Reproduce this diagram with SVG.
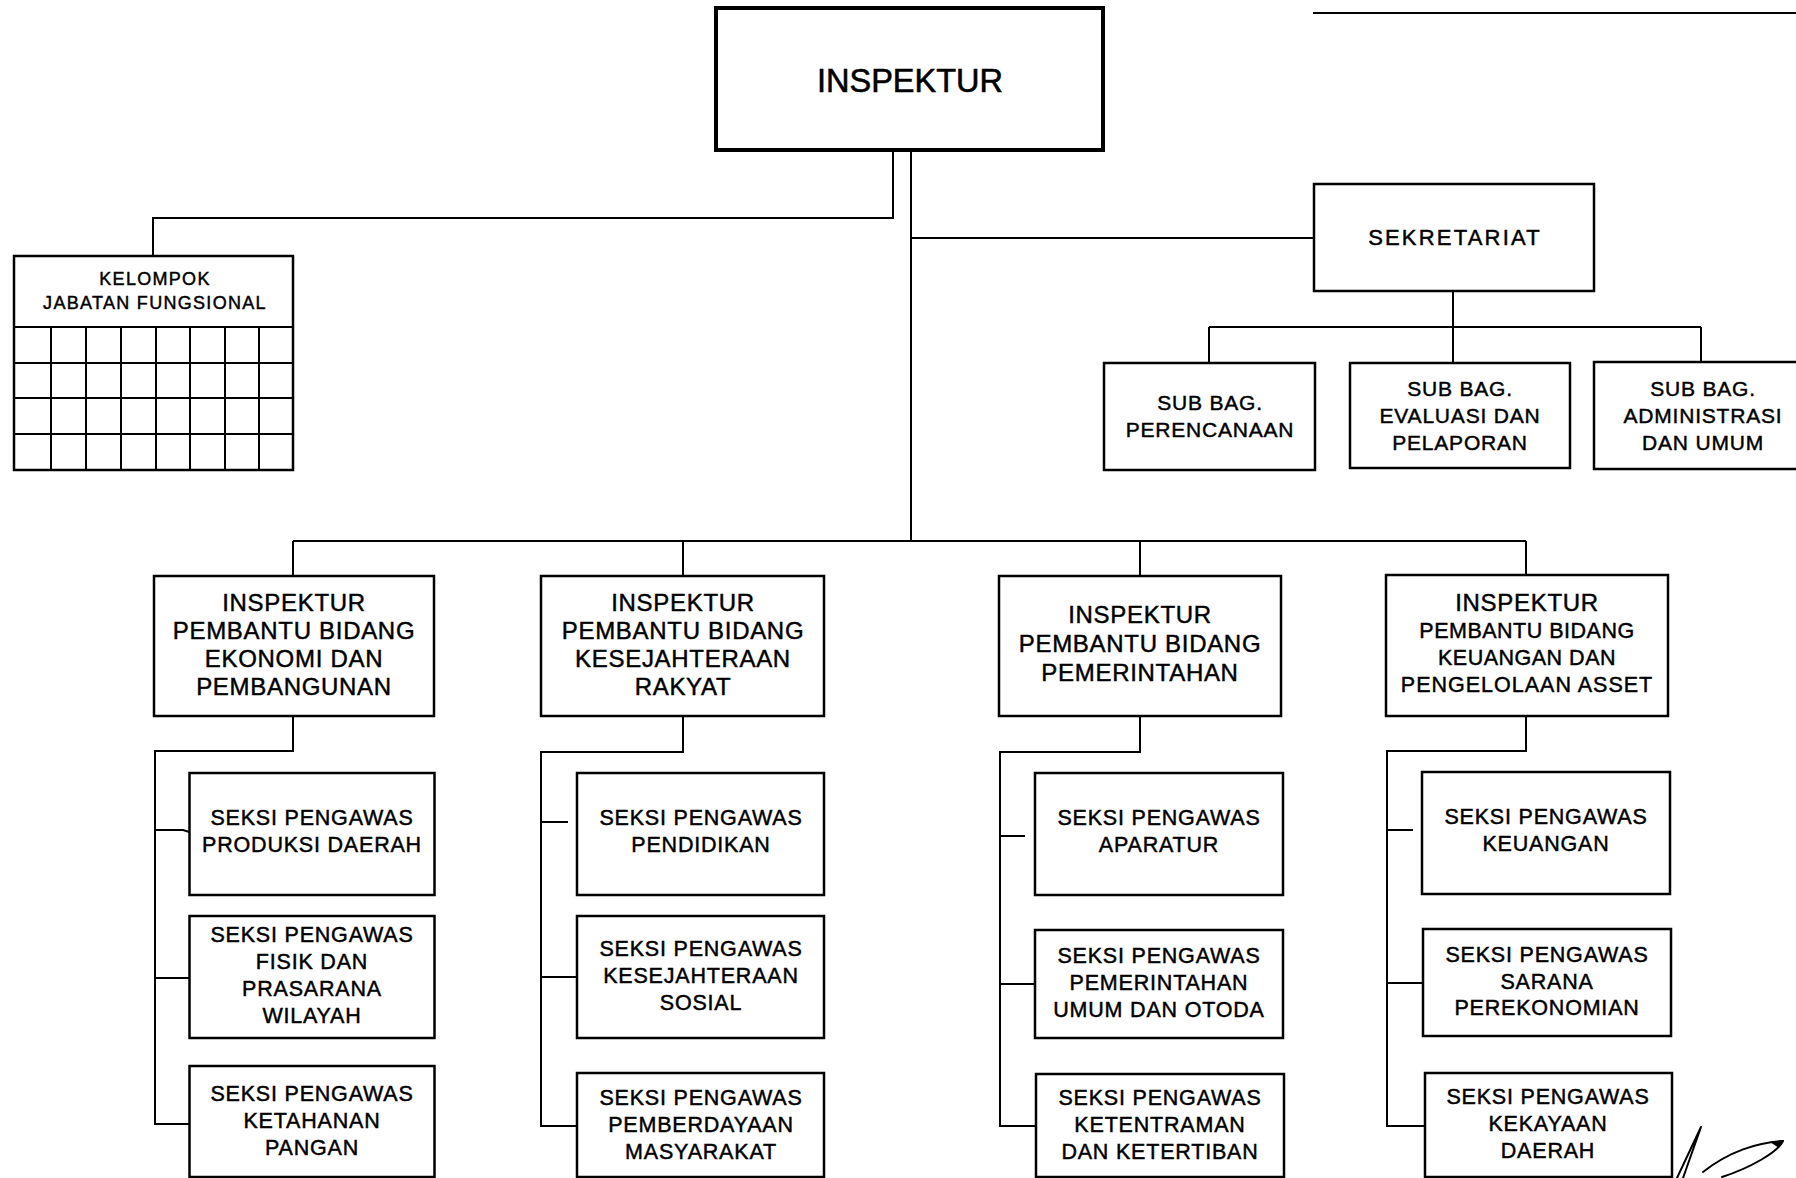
<svg xmlns="http://www.w3.org/2000/svg" width="1796" height="1178" viewBox="0 0 1796 1178">
<style>
.bg{fill:#fff}
.box{fill:#fff;stroke:#000;stroke-width:2.5}
.main{stroke-width:4}
.ln{fill:none;stroke:#000;stroke-width:2}
text{font-family:"Liberation Sans",Arial,sans-serif;fill:#000;stroke:#000;stroke-width:0.45px;text-anchor:middle}
.t-main{font-size:32.5px;stroke-width:0.6px}
.t-kel{font-size:18px;letter-spacing:1.3px}
.t-sek{font-size:22px;letter-spacing:2.2px}
.t-sub{font-size:21px;letter-spacing:0.8px}
.t-ip{font-size:24px;letter-spacing:0.7px}
.t-ip2{font-size:21.5px;letter-spacing:0.5px}
.t-sk{font-size:21.5px;letter-spacing:0.8px}
.sig{fill:none;stroke:#000;stroke-width:2;stroke-linejoin:round;stroke-linecap:round}
</style>
<rect class="bg" x="0" y="0" width="1796" height="1178"/>
<line class="ln" x1="1313" y1="13" x2="1796" y2="13" stroke-width="2.5"/>

<g id="connectors">
  <path class="ln" d="M893,150 V218 H153 V256"/>
  <path class="ln" d="M911,150 V541"/>
  <path class="ln" d="M911,238 H1314"/>
  <path class="ln" d="M1453,291 V327 M1209,327 H1701 M1209,327 V363 M1453,327 V363 M1701,327 V362"/>
  <path class="ln" d="M293,541 H1526 M293,541 V576 M683,541 V576 M1140,541 V576 M1526,541 V575"/>
  <path class="ln" d="M293,716 V751 H155 V1124 H189.5 M155,830 H183 L189.5,832 M155,978 H189.5"/>
  <path class="ln" d="M683,716 V752 H541 V1126 H577 M541,822 H568 M541,977 H577"/>
  <path class="ln" d="M1140,716 V752 H1000 V1126 H1036 M1000,836 H1025 M1000,984 H1035"/>
  <path class="ln" d="M1526,716 V751 H1387 V1126 H1425 M1387,830 H1413 M1387,983 H1423"/>
</g>

<g id="inspektur">
  <rect class="box main" x="716" y="8" width="387" height="142"/>
  <text class="t-main" x="910" y="92">INSPEKTUR</text>
</g>

<g id="kelompok-jabatan-fungsional">
  <rect class="box" x="14" y="256" width="279" height="214"/>
  <path class="ln" d="M14,327 H293 M14,363 H293 M14,398 H293 M14,434 H293 M51,327 V470 M86,327 V470 M121,327 V470 M156,327 V470 M190,327 V470 M225,327 V470 M259,327 V470"/>
  <text class="t-kel" x="155" y="285">KELOMPOK</text>
  <text class="t-kel" x="155" y="309">JABATAN FUNGSIONAL</text>
</g>

<g id="sekretariat">
  <rect class="box" x="1314" y="184" width="280" height="107"/>
  <text class="t-sek" x="1455" y="245">SEKRETARIAT</text>
</g>

<g id="subbag-perencanaan">
  <rect class="box" x="1104" y="363" width="211" height="107"/>
  <text class="t-sub" x="1210" y="410">SUB BAG.</text>
  <text class="t-sub" x="1210" y="437">PERENCANAAN</text>
</g>
<g id="subbag-evaluasi">
  <rect class="box" x="1350" y="363" width="220" height="105"/>
  <text class="t-sub" x="1460" y="396">SUB BAG.</text>
  <text class="t-sub" x="1460" y="423">EVALUASI DAN</text>
  <text class="t-sub" x="1460" y="450">PELAPORAN</text>
</g>
<g id="subbag-administrasi">
  <rect class="box" x="1594" y="362" width="210" height="107"/>
  <text class="t-sub" x="1703" y="396">SUB BAG.</text>
  <text class="t-sub" x="1703" y="423">ADMINISTRASI</text>
  <text class="t-sub" x="1703" y="450">DAN UMUM</text>
</g>

<g id="ip-ekonomi">
  <rect class="box" x="154" y="576" width="280" height="140"/>
  <text class="t-ip" x="294" y="611">INSPEKTUR</text>
  <text class="t-ip" x="294" y="639">PEMBANTU BIDANG</text>
  <text class="t-ip" x="294" y="667">EKONOMI DAN</text>
  <text class="t-ip" x="294" y="695">PEMBANGUNAN</text>
</g>
<g id="ip-kesra">
  <rect class="box" x="541" y="576" width="283" height="140"/>
  <text class="t-ip" x="683" y="611">INSPEKTUR</text>
  <text class="t-ip" x="683" y="639">PEMBANTU BIDANG</text>
  <text class="t-ip" x="683" y="667">KESEJAHTERAAN</text>
  <text class="t-ip" x="683" y="695">RAKYAT</text>
</g>
<g id="ip-pemerintahan">
  <rect class="box" x="999" y="576" width="282" height="140"/>
  <text class="t-ip" x="1140" y="623">INSPEKTUR</text>
  <text class="t-ip" x="1140" y="652">PEMBANTU BIDANG</text>
  <text class="t-ip" x="1140" y="681">PEMERINTAHAN</text>
</g>
<g id="ip-keuangan">
  <rect class="box" x="1386" y="575" width="282" height="141"/>
  <text class="t-ip" x="1527" y="611">INSPEKTUR</text>
  <text class="t-ip2" x="1527" y="638">PEMBANTU BIDANG</text>
  <text class="t-ip2" x="1527" y="665">KEUANGAN DAN</text>
  <text class="t-ip2" x="1527" y="692" style="letter-spacing:1px">PENGELOLAAN ASSET</text>
</g>

<g id="seksi-produksi-daerah">
  <rect class="box" x="189.5" y="773" width="245" height="122"/>
  <text class="t-sk" x="312" y="825">SEKSI PENGAWAS</text>
  <text class="t-sk" x="312" y="852">PRODUKSI DAERAH</text>
</g>
<g id="seksi-fisik-prasarana">
  <rect class="box" x="189.5" y="916" width="245" height="122"/>
  <text class="t-sk" x="312" y="942">SEKSI PENGAWAS</text>
  <text class="t-sk" x="312" y="969">FISIK DAN</text>
  <text class="t-sk" x="312" y="996">PRASARANA</text>
  <text class="t-sk" x="312" y="1023">WILAYAH</text>
</g>
<g id="seksi-ketahanan-pangan">
  <rect class="box" x="189.5" y="1066" width="245" height="111"/>
  <text class="t-sk" x="312" y="1101">SEKSI PENGAWAS</text>
  <text class="t-sk" x="312" y="1128">KETAHANAN</text>
  <text class="t-sk" x="312" y="1155">PANGAN</text>
</g>

<g id="seksi-pendidikan">
  <rect class="box" x="577" y="773" width="247" height="122"/>
  <text class="t-sk" x="701" y="825">SEKSI PENGAWAS</text>
  <text class="t-sk" x="701" y="852">PENDIDIKAN</text>
</g>
<g id="seksi-kesejahteraan-sosial">
  <rect class="box" x="577" y="916" width="247" height="122"/>
  <text class="t-sk" x="701" y="956">SEKSI PENGAWAS</text>
  <text class="t-sk" x="701" y="983">KESEJAHTERAAN</text>
  <text class="t-sk" x="701" y="1010">SOSIAL</text>
</g>
<g id="seksi-pemberdayaan">
  <rect class="box" x="577" y="1073" width="247" height="104"/>
  <text class="t-sk" x="701" y="1105">SEKSI PENGAWAS</text>
  <text class="t-sk" x="701" y="1132">PEMBERDAYAAN</text>
  <text class="t-sk" x="701" y="1159">MASYARAKAT</text>
</g>

<g id="seksi-aparatur">
  <rect class="box" x="1035" y="773" width="248" height="122"/>
  <text class="t-sk" x="1159" y="825">SEKSI PENGAWAS</text>
  <text class="t-sk" x="1159" y="852">APARATUR</text>
</g>
<g id="seksi-pemerintahan-umum">
  <rect class="box" x="1035" y="930" width="248" height="108"/>
  <text class="t-sk" x="1159" y="963">SEKSI PENGAWAS</text>
  <text class="t-sk" x="1159" y="990">PEMERINTAHAN</text>
  <text class="t-sk" x="1159" y="1017">UMUM DAN OTODA</text>
</g>
<g id="seksi-ketentraman">
  <rect class="box" x="1036" y="1074" width="248" height="103"/>
  <text class="t-sk" x="1160" y="1105">SEKSI PENGAWAS</text>
  <text class="t-sk" x="1160" y="1132">KETENTRAMAN</text>
  <text class="t-sk" x="1160" y="1159">DAN KETERTIBAN</text>
</g>

<g id="seksi-keuangan">
  <rect class="box" x="1422" y="772" width="248" height="122"/>
  <text class="t-sk" x="1546" y="824">SEKSI PENGAWAS</text>
  <text class="t-sk" x="1546" y="851">KEUANGAN</text>
</g>
<g id="seksi-sarana-perekonomian">
  <rect class="box" x="1423" y="929" width="248" height="107"/>
  <text class="t-sk" x="1547" y="962">SEKSI PENGAWAS</text>
  <text class="t-sk" x="1547" y="989">SARANA</text>
  <text class="t-sk" x="1547" y="1015">PEREKONOMIAN</text>
</g>
<g id="seksi-kekayaan-daerah">
  <rect class="box" x="1425" y="1073" width="247" height="104"/>
  <text class="t-sk" x="1548" y="1104">SEKSI PENGAWAS</text>
  <text class="t-sk" x="1548" y="1131">KEKAYAAN</text>
  <text class="t-sk" x="1548" y="1158">DAERAH</text>
</g>

<g id="signature">
  <path class="sig" d="M1677,1178 L1701,1127 L1683,1178"/>
  <path class="sig" d="M1703,1172 C1728,1152 1758,1142 1783,1141 C1778,1152 1750,1168 1722,1177"/>
  <path d="M1770,1142 L1784,1140 L1779,1148 Z" fill="#000"/>
</g>
</svg>
